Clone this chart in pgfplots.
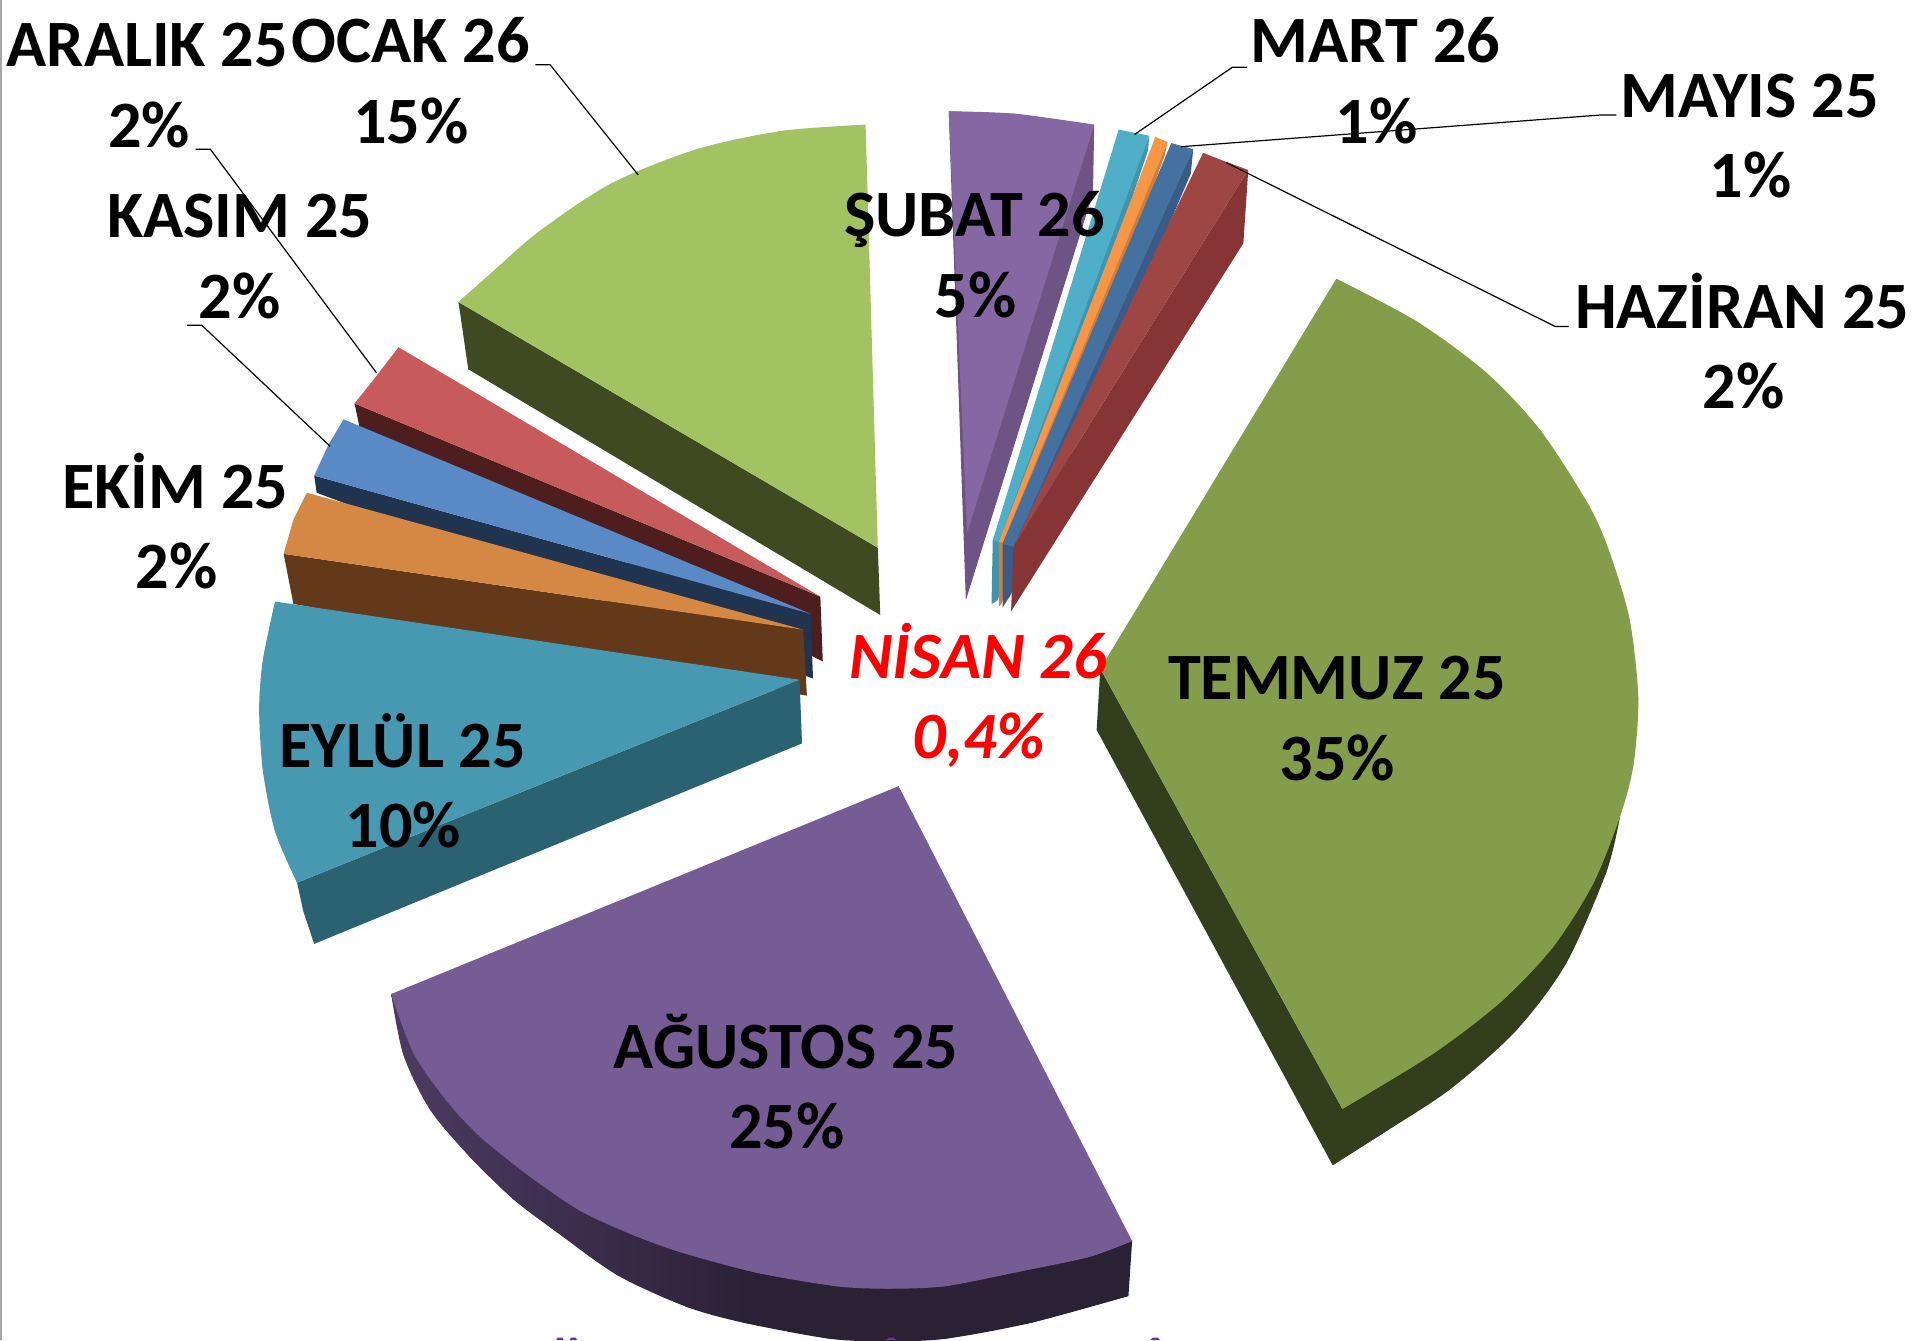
\documentclass[border=0pt]{standalone}
\usepackage{pgfplots}
\pgfplotsset{compat=1.18}
\usepackage{fontspec}
\setmainfont{Carlito}
\definecolor{tem}{HTML}{849D4B}\definecolor{temd}{HTML}{333E1C}
\definecolor{agu}{HTML}{765C94}\definecolor{agud}{HTML}{2A2135}\definecolor{agul}{HTML}{4D3A62}
\definecolor{eyl}{HTML}{4798B1}\definecolor{eyld}{HTML}{2A6272}
\definecolor{eki}{HTML}{D58843}\definecolor{ekid}{HTML}{63391A}
\definecolor{kas}{HTML}{5A8AC6}\definecolor{kasd}{HTML}{20344F}
\definecolor{ara}{HTML}{C75A5A}\definecolor{arad}{HTML}{4E1E1E}
\definecolor{oca}{HTML}{A3C261}\definecolor{ocad}{HTML}{3F4A20}
\definecolor{sub}{HTML}{8567A4}\definecolor{subd}{HTML}{6D5485}
\definecolor{mar}{HTML}{4FAEC8}\definecolor{mard}{HTML}{3F95AD}
\definecolor{nis}{HTML}{F79646}\definecolor{nisd}{HTML}{D27E3A}
\definecolor{may}{HTML}{44719F}\definecolor{mayd}{HTML}{395B88}
\definecolor{haz}{HTML}{9E4643}\definecolor{hazd}{HTML}{863434}
\definecolor{ttl}{HTML}{7030A0}
\newcommand{\lab}[3]{%
 \node[font=\fontsize{33.1}{40}\selectfont\bfseries,inner sep=0pt,anchor=base] at (axis cs:#1,#2) {#3};
}
\newcommand{\rlab}[3]{%
 \node[text=red,font=\fontsize{33.1}{40}\selectfont\bfseries\itshape,inner sep=0pt,anchor=base] at (axis cs:#1,#2) {#3};
}
% colour, straight points, arc points
\newcommand{\curved}[3]{%
 \addplot[fill=#1,draw=none] coordinates {#2 #3} --cycle;
 \addplot[fill=#1,draw=none,smooth] coordinates {#3};
}
\begin{document}
\begin{tikzpicture}
\begin{axis}[
 scale only axis,width=958.5pt,height=670pt,
 xmin=0,xmax=1568,ymin=0,ymax=1096,y dir=reverse,
 axis lines=none,clip=true,
]
% TEMMUZ
\curved{temd}{(897,597)(900,547)(1098,907)}{(1325,668)(1314,713)(1281,788)(1240,843)(1186,891)(1131,927)(1090,953)}
\curved{tem}{(900,547)}{(1093,228)(1159,263)(1216,305)(1260,352)(1300,414)(1317,453)(1333,507)(1340,571)(1336,626)(1325,668)(1303,723)(1270,775)(1227,820)(1172,862)(1098,907)}
% AGUSTOS
\addplot[left color=agul,right color=agud,middle color=agud,draw=none] coordinates {(320,813)(330,863)(352,908)(385,947)(420,981)(453,1006)(505,1043)(562,1069)(609,1082)(679,1095)(726,1097)(773,1095)(843,1082)(923,1060)(926,1015)(735,800)} --cycle;
\addplot[left color=agul,right color=agud,middle color=agud,draw=none,smooth] coordinates {(320,813)(330,863)(352,908)(385,947)(420,981)(453,1006)(505,1043)(562,1069)(609,1082)(679,1095)(726,1097)(773,1095)(843,1082)(923,1060)};
\curved{agu}{(735,643)}{(320,813)(338,861)(365,900)(393,930)(433,962)(474,990)(515,1009)(556,1024)(619,1041)(684,1052)(726,1054)(773,1052)(834,1040)(891,1028)(926,1015)}
% OCAK
\addplot[fill=ocad,draw=none] coordinates {(375,247)(718,448)(720,503)(383,302)} --cycle;
\curved{oca}{(718,448)}{(375,247)(400,225)(440,190)(500,150)(570,122)(640,107)(708,102)}
% ARALIK
\addplot[fill=arad,draw=none] coordinates {(290,330)(671,488)(673,541)(294,349)} --cycle;
\addplot[fill=ara,draw=none] coordinates {(326,284)(306,310)(290,330)(671,488)} --cycle;
% KASIM
\addplot[fill=kasd,draw=none] coordinates {(257,389)(663,502)(665,555)(259,403)} --cycle;
\addplot[fill=kas,draw=none] coordinates {(281,343)(268,365)(257,389)(663,502)} --cycle;
% EKIM
\addplot[fill=ekid,draw=none] coordinates {(232,453)(657,515)(660,569)(240,494)} --cycle;
\addplot[fill=eki,draw=none] coordinates {(251,403)(240,425)(232,453)(657,515)} --cycle;
% EYLUL
\addplot[fill=eyld,draw=none] coordinates {(243,722)(654,556)(656,608)(257,772)(248,745)} --cycle;
\curved{eyl}{(654,556)}{(225,492)(215,540)(212,580)(215,630)(225,680)(243,722)}
% SUBAT
\addplot[fill=subd,draw=none] coordinates {(895,102)(894,158)(790,491)(776,91)} --cycle;
\curved{sub}{(791,436)}{(776,91)(830,93)(895,102)}
% MART
\addplot[fill=mard,draw=none] coordinates {(940,111)(939,123)(816,491)(811,494)(812,442)} --cycle;
\addplot[fill=mar,draw=none] coordinates {(915,106)(940,111)(817,443)(812,442)} --cycle;
% NISAN
\addplot[fill=nisd,draw=none] coordinates {(955,116)(953,126)(819,494)(817,496)(817,443)} --cycle;
\addplot[fill=nis,draw=none] coordinates {(945,112)(955,116)(820,444)(817,443)} --cycle;
% MAYIS
\addplot[fill=mayd,draw=none] coordinates {(976,122)(974,142)(827,486)(820,497)(820,445)} --cycle;
\addplot[fill=may,draw=none] coordinates {(958,117)(976,122)(829,447)(820,445)} --cycle;
% HAZIRAN
\addplot[fill=hazd,draw=none] coordinates {(1021,139)(1017,199)(827,500)(829,447)} --cycle;
\addplot[fill=haz,draw=none] coordinates {(984,125)(1002,132)(1021,139)(829,447)} --cycle;
% leaders
\addplot[black,line width=0.6pt] coordinates {(438,53)(450,53)(522,143)};
\addplot[black,line width=0.6pt] coordinates {(160,122)(172,122)(308,305)};
\addplot[black,line width=0.6pt] coordinates {(153,266)(165,266)(270,365)};
\addplot[black,line width=0.6pt] coordinates {(1020,55)(1008,55)(928,110)};
\addplot[black,line width=0.6pt] coordinates {(1322,94)(1310,94)(966,120)};
\addplot[black,line width=0.6pt] coordinates {(1283,267)(1272,267)(1003,133)};
% left edge
\addplot[gray!70,line width=1pt] coordinates {(0.5,0)(0.5,1096)};
% tops of the cut-off line under the chart
\addplot[fill=ttl,draw=none] coordinates {(455,1096)(456,1094)(460,1094)(461,1096)} --cycle;
\addplot[fill=ttl,draw=none] coordinates {(466,1096)(467,1094)(471,1094)(472,1096)} --cycle;
\addplot[fill=ttl,draw=none] coordinates {(725,1096)(727,1094)(731,1094)(733,1096)} --cycle;
\addplot[fill=ttl,draw=none] coordinates {(941,1096)(943,1094)(947,1094)(949,1096)} --cycle;
% labels
\lab{120.5}{54.5}{ARALIK 25}\lab{122}{120.5}{2\%}
\lab{336}{51.5}{OCAK 26}\lab{336}{117.5}{15\%}
\lab{196}{194.5}{KASIM 25}\lab{196}{260.5}{2\%}
\lab{797}{193.5}{ŞUBAT 26}\lab{798}{259.5}{5\%}
\lab{1125}{51.5}{MART 26}\lab{1126}{117.5}{1\%}
\lab{1431}{96}{MAYIS 25}\lab{1432}{161.5}{1\%}
\lab{1425}{268.5}{HAZİRAN 25}\lab{1426}{334.5}{2\%}
\lab{143.5}{416}{EKİM 25}\lab{144.5}{481.5}{2\%}
\lab{329.5}{628}{EYLÜL 25}\lab{330}{693.5}{10\%}
\lab{1093.5}{572.5}{TEMMUZ 25}\lab{1094}{638.5}{35\%}
\lab{643}{874}{AĞUSTOS 25}\lab{643.5}{939.5}{25\%}
\rlab{800}{555}{NİSAN 26}
\rlab{800.5}{620}{0,4\%}
\end{axis}
\pgfresetboundingbox
\path (current axis.south west) rectangle (current axis.north east);
\end{tikzpicture}
\end{document}
